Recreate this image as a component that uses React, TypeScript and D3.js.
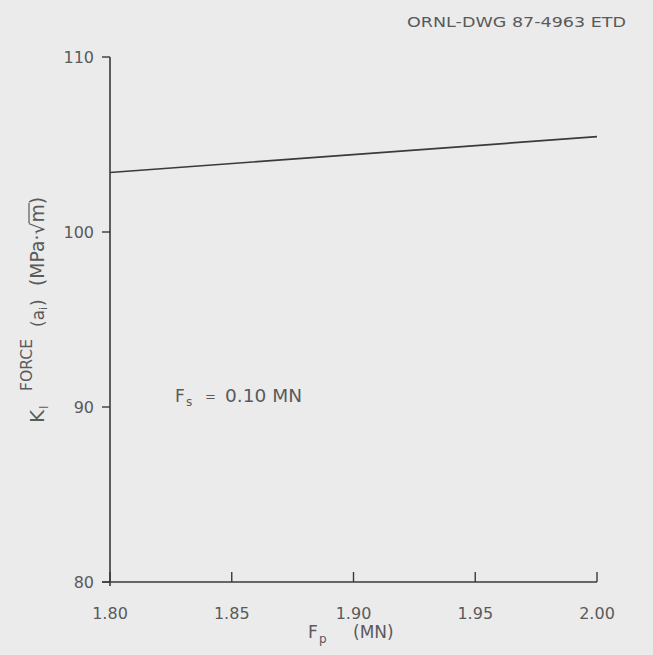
import React from "react";
import * as d3 from "d3";

const xTicks = [1.8, 1.85, 1.9, 1.95, 2.0];
const yTicks = [80, 90, 100, 110];
const lineX = [1.8, 2.0];
const lineY = [103.4, 105.45];
const title = "ORNL-DWG 87-4963 ETD";

export default function App() {
  const W = 653, H = 655;
  const x = d3.scaleLinear().domain([1.8, 2.0]).range([110, 597]);
  const y = d3.scaleLinear().domain([80, 110]).range([582, 57]);
  const pts = lineX.map((v, i) => [v, lineY[i]] as [number, number]);
  const line = d3.line<[number, number]>().x(d => x(d[0])).y(d => y(d[1]));
  const ink = "#3a3a3a";
  const txt = "#5a5a5a";
  const font = "DejaVu Sans, Liberation Sans, sans-serif";
  const pre = { whiteSpace: "pre" as const };
  return (
    <svg width={W} height={H} style={{ position: "absolute", left: 0, top: 0 }} fontFamily={font}>
      <rect width={W} height={H} fill="#ebebeb" />
      <text x={407} y={27} fontSize={14} fill={txt} textLength={219} lengthAdjust="spacingAndGlyphs">{title}</text>
      {/* axes */}
      <line x1={x(1.8)} x2={x(1.8)} y1={y(110)} y2={y(80) + 4} stroke={ink} strokeWidth={1.6} />
      <line x1={x(1.8) - 8} x2={x(2.0)} y1={y(80)} y2={y(80)} stroke={ink} strokeWidth={1.6} />
      {yTicks.map(t => (
        <g key={t}>
          <line x1={x(1.8) - 8} x2={x(1.8)} y1={y(t)} y2={y(t)} stroke={ink} strokeWidth={1.4} />
          <text x={x(1.8) - 16} y={y(t)} dy="0.36em" fontSize={16} fill={txt} textAnchor="end">{t}</text>
        </g>
      ))}
      {xTicks.map(t => (
        <g key={t}>
          <line x1={x(t)} x2={x(t)} y1={y(80)} y2={y(80) - 10} stroke={ink} strokeWidth={1.4} />
          <text x={x(t)} y={619} fontSize={16} fill={txt} textAnchor="middle">{t.toFixed(2)}</text>
        </g>
      ))}
      <path d={line(pts) || ""} fill="none" stroke={ink} strokeWidth={1.7} />
      {/* annotation */}
      <text x={175} y={402} fontSize={17} fill={txt}>F</text>
      <text x={186} y={406} fontSize={12} fill={txt}>s</text>
      <text x={205} y={401} fontSize={13} fill={txt}>=</text>
      <text x={225} y={402} fontSize={17} fill={txt} textLength={77} lengthAdjust="spacingAndGlyphs">0.10 MN</text>
      {/* x label */}
      <text x={308} y={638} fontSize={17} fill={txt}>F</text>
      <text x={319} y={643} fontSize={12} fill={txt}>p</text>
      <text x={353} y={638} fontSize={17} fill={txt} style={pre}>(MN)</text>
      {/* y label */}
      <g transform="translate(44,0) rotate(-90)" fill={txt}>
        <text x={-423} y={0} fontSize={20}>K</text>
        <text x={-409} y={4} fontSize={12}>I</text>
        <text x={-391} y={-12} fontSize={15} textLength={52} lengthAdjust="spacingAndGlyphs">FORCE</text>
        <text x={-327} y={0} fontSize={17}>(a</text>
        <text x={-310} y={3} fontSize={11}>i</text>
        <text x={-306} y={0} fontSize={17}>)</text>
        <text x={-286} y={0} fontSize={18.8}>(MPa·√m)</text>
        <line x1={-223} x2={-203} y1={-15} y2={-15} stroke={txt} strokeWidth={1.2} />
      </g>
    </svg>
  );
}
